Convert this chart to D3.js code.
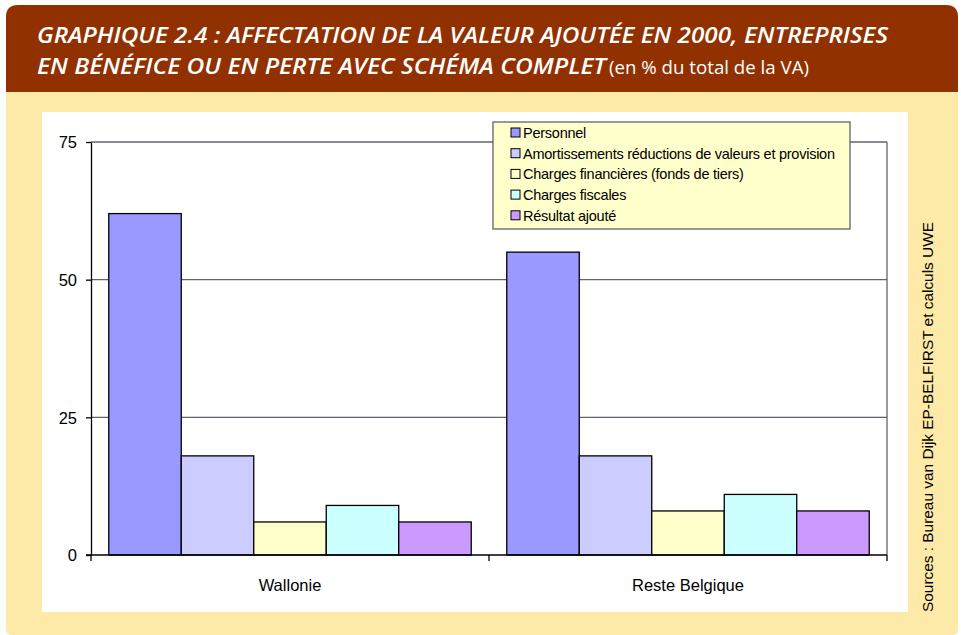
<!DOCTYPE html>
<html>
<head>
<meta charset="utf-8">
<script src="https://cdn.jsdelivr.net/npm/d3@7"></script>
<style>
  body { margin: 0; background: #ffffff; }
  svg { display: block; font-family: "Liberation Sans", Arial, sans-serif; }
</style>
</head>
<body>
<svg id="chart" width="961" height="635"></svg>
<script>
// data
const categories = ["Wallonie", "Reste Belgique"];
const series = [
  "Personnel",
  "Amortissements réductions de valeurs et provision",
  "Charges financières (fonds de tiers)",
  "Charges fiscales",
  "Résultat ajouté"
];
const wallonie = [62, 18, 6, 9, 6];
const resteBelgique = [55, 18, 8, 11, 8];
const yTicks = [0, 25, 50, 75];
const colors = ["#9999ff", "#ccccff", "#ffffcc", "#ccffff", "#cc99ff"];

const values = [wallonie, resteBelgique];

const svg = d3.select("#chart");

// frame: cream body + brown header with rounded top
svg.append("path")
  .attr("d", "M6,17 Q6,5 18,5 L946,5 Q958,5 958,17 L958,629 Q958,635 952,635 L12,635 Q6,635 6,629 Z")
  .attr("fill", "#feeaa8");
svg.append("path")
  .attr("d", "M6,17 Q6,5 18,5 L946,5 Q958,5 958,17 L958,92 L6,92 Z")
  .attr("fill", "#923100");

// title
const titleFont = "'Open Sans', 'DejaVu Sans Condensed', sans-serif";
svg.append("text")
  .attr("x", 37).attr("y", 43)
  .attr("fill", "#ffffff")
  .style("font-family", titleFont)
  .style("font-size", "21px").style("font-weight", 600).style("font-style", "italic")
  .attr("textLength", 851).attr("lengthAdjust", "spacingAndGlyphs")
  .text("GRAPHIQUE 2.4 : AFFECTATION DE LA VALEUR AJOUTÉE EN 2000, ENTREPRISES");
svg.append("text")
  .attr("x", 37).attr("y", 74)
  .attr("fill", "#ffffff")
  .style("font-family", titleFont)
  .style("font-size", "21px").style("font-weight", 600).style("font-style", "italic")
  .attr("textLength", 569).attr("lengthAdjust", "spacingAndGlyphs")
  .text("EN BÉNÉFICE OU EN PERTE AVEC SCHÉMA COMPLET");
svg.append("text")
  .attr("x", 609).attr("y", 74)
  .attr("fill", "#ffffff")
  .style("font-family", titleFont)
  .style("font-size", "19px")
  .attr("textLength", 200).attr("lengthAdjust", "spacingAndGlyphs")
  .text("(en % du total de la VA)");

// white chart panel
svg.append("rect")
  .attr("x", 42).attr("y", 112).attr("width", 866).attr("height", 500)
  .attr("fill", "#ffffff");

// source, rotated
svg.append("text")
  .attr("transform", "translate(933,417) rotate(-90)")
  .attr("text-anchor", "middle")
  .style("font-size", "14px")
  .attr("fill", "#000")
  .attr("textLength", 390).attr("lengthAdjust", "spacingAndGlyphs")
  .text("Sources : Bureau van Dijk EP-BELFIRST et calculs UWE");

// scales
const plot = { left: 91, right: 887, top: 142, bottom: 555 };
const y = d3.scaleLinear().domain([0, 75]).range([plot.bottom, plot.top]);
const x0 = d3.scaleBand().domain(categories).range([plot.left, plot.right]).padding(0);
const x1 = d3.scaleBand().domain(d3.range(series.length))
  .range([0, x0.bandwidth()]).paddingInner(0).paddingOuter(0.245);

const g = svg.append("g");

// gridlines
g.selectAll("line.grid")
  .data(yTicks.filter(d => d > 0))
  .join("line")
  .attr("class", "grid")
  .attr("x1", plot.left).attr("x2", plot.right)
  .attr("y1", d => y(d)).attr("y2", d => y(d))
  .attr("stroke", "#62626e").attr("stroke-width", 1.3);

// plot area right border
g.append("line")
  .attr("x1", plot.right).attr("x2", plot.right)
  .attr("y1", plot.top).attr("y2", plot.bottom)
  .attr("stroke", "#62626e").attr("stroke-width", 1.3);

// bars
categories.forEach((cat, ci) => {
  g.selectAll("rect.bar" + ci)
    .data(values[ci])
    .join("rect")
    .attr("class", "bar" + ci)
    .attr("x", (d, i) => x0(cat) + x1(i))
    .attr("y", d => y(d))
    .attr("width", x1.bandwidth())
    .attr("height", d => y(0) - y(d))
    .attr("fill", (d, i) => colors[i])
    .attr("stroke", "#000").attr("stroke-width", 1.3);
});

// y axis
const yAxis = g.append("g")
  .attr("transform", `translate(${plot.left},0)`)
  .call(d3.axisLeft(y).tickValues(yTicks).tickSize(5).tickPadding(9).tickSizeOuter(0));
yAxis.select(".domain").attr("stroke", "#000").attr("stroke-width", 1.3);
yAxis.selectAll(".tick line").attr("stroke", "#000").attr("stroke-width", 1.3);
yAxis.selectAll(".tick text")
  .style("font-size", "16.5px").style("font-family", "'Liberation Sans', Arial, sans-serif")
  .attr("fill", "#000").attr("dy", "0.35em");

// x axis
const xAxis = g.append("g")
  .attr("transform", `translate(0,${plot.bottom})`);
xAxis.append("line")
  .attr("x1", plot.left - 5).attr("x2", plot.right)
  .attr("stroke", "#000").attr("stroke-width", 1.3);
xAxis.selectAll("line.xt")
  .data([plot.left, x0(categories[1]), plot.right])
  .join("line")
  .attr("class", "xt")
  .attr("x1", d => d).attr("x2", d => d)
  .attr("y1", 0).attr("y2", 6)
  .attr("stroke", "#000").attr("stroke-width", 1.3);
xAxis.selectAll("text")
  .data(categories)
  .join("text")
  .attr("x", d => x0(d) + x0.bandwidth() / 2)
  .attr("y", 36)
  .attr("text-anchor", "middle")
  .style("font-size", "16.5px")
  .attr("fill", "#000")
  .text(d => d);

// legend
const legend = svg.append("g").attr("transform", "translate(493,122)");
legend.append("rect")
  .attr("width", 357).attr("height", 107)
  .attr("fill", "#ffffcc").attr("stroke", "#62626e").attr("stroke-width", 1.3);
const items = legend.selectAll("g.item")
  .data(series)
  .join("g")
  .attr("class", "item")
  .attr("transform", (d, i) => `translate(18,${11 + i * 20.7})`);
items.append("rect")
  .attr("x", 0).attr("y", -5)
  .attr("width", 9).attr("height", 9)
  .attr("fill", (d, i) => colors[i])
  .attr("stroke", "#000").attr("stroke-width", 1);
items.append("text")
  .attr("x", 12).attr("y", 0).attr("dy", "0.35em")
  .style("font-size", "14.5px")
  .style("letter-spacing", "-0.25px")
  .attr("fill", "#000")
  .text(d => d);
</script>
</body>
</html>
